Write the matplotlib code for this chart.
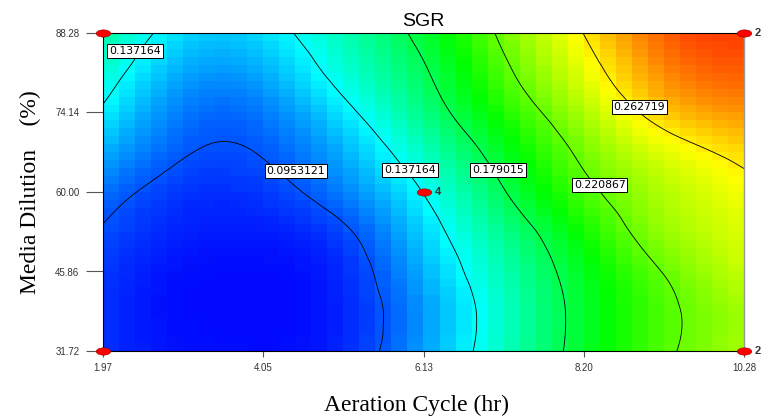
import numpy as np
import matplotlib
matplotlib.use('Agg')
import matplotlib.pyplot as plt
import matplotlib.tri as mtri
from matplotlib.colors import LinearSegmentedColormap
from matplotlib.path import Path
from matplotlib.transforms import Affine2D

# factor levels (tick positions)
aeration = [1.97, 4.05, 6.13, 8.20, 10.28]
dilution = [31.72, 45.86, 60.00, 74.14, 88.28]

# SGR on a 9 x 9 grid (ticks and half way between),
# rows = dilution from bottom to top, columns = aeration from left to right
grid_aeration = [1.97, 3.01, 4.05, 5.09, 6.13, 7.17, 8.20, 9.24, 10.28]
grid_dilution = [31.72, 38.79, 45.86, 52.93, 60.00, 67.07, 74.14, 81.21, 88.28]
sgr = [
    [0.087, 0.079, 0.078, 0.085, 0.1139, 0.1519, 0.1877, 0.2170, 0.238],
    [0.087, 0.078, 0.077, 0.084, 0.1122, 0.1506, 0.1869, 0.2159, 0.237],
    [0.089, 0.079, 0.078, 0.086, 0.1180, 0.1555, 0.1909, 0.2217, 0.2455],
    [0.094, 0.083, 0.082, 0.0926, 0.1265, 0.1644, 0.2008, 0.2328, 0.250],
    [0.103, 0.088, 0.089, 0.106, 0.1380, 0.1780, 0.2145, 0.2400, 0.257],
    [0.118, 0.0968, 0.0965, 0.118, 0.1518, 0.1899, 0.2256, 0.2520, 0.268],
    [0.134, 0.105, 0.105, 0.1315, 0.1664, 0.2043, 0.2392, 0.2710, 0.284],
    [0.148, 0.116, 0.117, 0.145, 0.1765, 0.2163, 0.2525, 0.2860, 0.297],
    [0.160, 0.128, 0.129, 0.154, 0.1860, 0.2256, 0.2630, 0.2960, 0.305],
]
levels = [0.0953121, 0.137164, 0.179015, 0.220867, 0.262719]

# design points and replicate counts
design_a = [1.97, 1.97, 10.28, 10.28, 6.13]
design_b = [31.72, 88.28, 88.28, 31.72, 60.00]
design_n = [1, 1, 2, 2, 4]

# where the contour labels sit (level index, aeration, dilution)
label_spots = [(1, 2.385, 85.08), (0, 4.47, 63.73), (1, 5.95, 63.91),
               (2, 7.09, 63.91), (3, 8.41, 61.24), (4, 8.92, 75.12)]

#########################################################
# surface

x0, x1 = aeration[0], aeration[-1]
y0, y1 = dilution[0], dilution[-1]
sx, sy = x1 - x0, y1 - y0
nx, ny = len(grid_aeration), len(grid_dilution)

# triangulate on a unit square with square cells
A, B = np.meshgrid(grid_aeration, grid_dilution)
tris = []
for j in range(ny - 1):
    for i in range(nx - 1):
        k = j * nx + i
        tris.append([k, k + 1, k + nx + 1])
        tris.append([k, k + nx + 1, k + nx])
triang = mtri.Triangulation((A.ravel() - x0) / sx, (B.ravel() - y0) / sy, tris)
interp = mtri.CubicTriInterpolator(triang, np.array(sgr).ravel(), kind='min_E')

# blocky cells like Design-Expert
xe = np.linspace(x0, x1, 41)
ye = np.linspace(y0, y1, 41)
xc = (xe[:-1] + xe[1:]) / 2
yc = (ye[:-1] + ye[1:]) / 2
XC, YC = np.meshgrid(xc, yc)
ZC = interp((XC - x0) / sx, (YC - y0) / sy)

eps = 1e-9
xf = np.linspace(x0, x1, 300)
yf = np.linspace(y0, y1, 300)
XF, YF = np.meshgrid(xf, yf)
ZF = interp(np.clip((XF - x0) / sx, eps, 1 - eps), np.clip((YF - y0) / sy, eps, 1 - eps))

de_cmap = LinearSegmentedColormap.from_list(
    'de', ['#0000FF', '#00FFFF', '#00FF00', '#FFFF00', '#FF0000'])

fig = plt.figure(figsize=(7.63, 4.17), dpi=100)
ax = fig.add_axes([103 / 763, 66 / 417, 641 / 763, 318 / 417])

ax.pcolormesh(xe, ye, ZC, cmap=de_cmap, vmin=0.075, vmax=0.32, shading='flat')
ax.contour(XF, YF, ZF, levels=levels, colors='black', linewidths=0.6)

for idx, lx, ly in label_spots:
    ax.text(lx, ly, '%g' % levels[idx], fontsize=7.8, family='DejaVu Sans',
            ha='center', va='center', zorder=5,
            bbox=dict(boxstyle='square,pad=0.16', fc='white', ec='black', lw=0.7))

# design points as flat red ovals
oval = Path.unit_circle().transformed(Affine2D().scale(1.0, 0.5))
ax.scatter(design_a, design_b, marker=oval, s=110, c='#FF0000',
           edgecolors='#990000', linewidths=0.4, zorder=10, clip_on=False)
for a, b, n in zip(design_a, design_b, design_n):
    if n > 1:
        ax.annotate(str(n), (a, b), xytext=(8, 0), textcoords='offset points',
                    fontsize=8, fontweight='bold', color='#333333',
                    family='Liberation Sans', va='center', ha='left',
                    annotation_clip=False)

ax.set_xlim(x0, x1)
ax.set_ylim(y0, y1)
ax.set_xticks(aeration)
ax.set_xticklabels(['%.2f' % v for v in aeration])
ax.set_yticks(dilution)
ax.set_yticklabels(['%.2f' % v for v in dilution])
ax.tick_params(axis='y', length=12, width=0.8, color='#555555', pad=5,
               labelsize=7, labelcolor='#333333')
ax.tick_params(axis='x', length=4.5, width=0.8, color='#555555', pad=4,
               labelsize=7, labelcolor='#333333')
for lab in ax.get_xticklabels() + ax.get_yticklabels():
    lab.set_family('Liberation Sans')

for side in ['left', 'bottom', 'top']:
    ax.spines[side].set_color('black')
    ax.spines[side].set_linewidth(0.8)
ax.spines['right'].set_color('#999999')
ax.spines['right'].set_linewidth(1.0)

ax.set_title('SGR', fontsize=14, family='Liberation Sans', pad=5)
ax.set_xlabel('Aeration Cycle (hr)', fontsize=17, family='Liberation Serif', labelpad=16)
ax.xaxis.label.set_x(0.489)
ax.set_ylabel('Media Dilution    (%)', fontsize=17, family='Liberation Serif', labelpad=10)

fig.savefig('out.png', dpi=100)
